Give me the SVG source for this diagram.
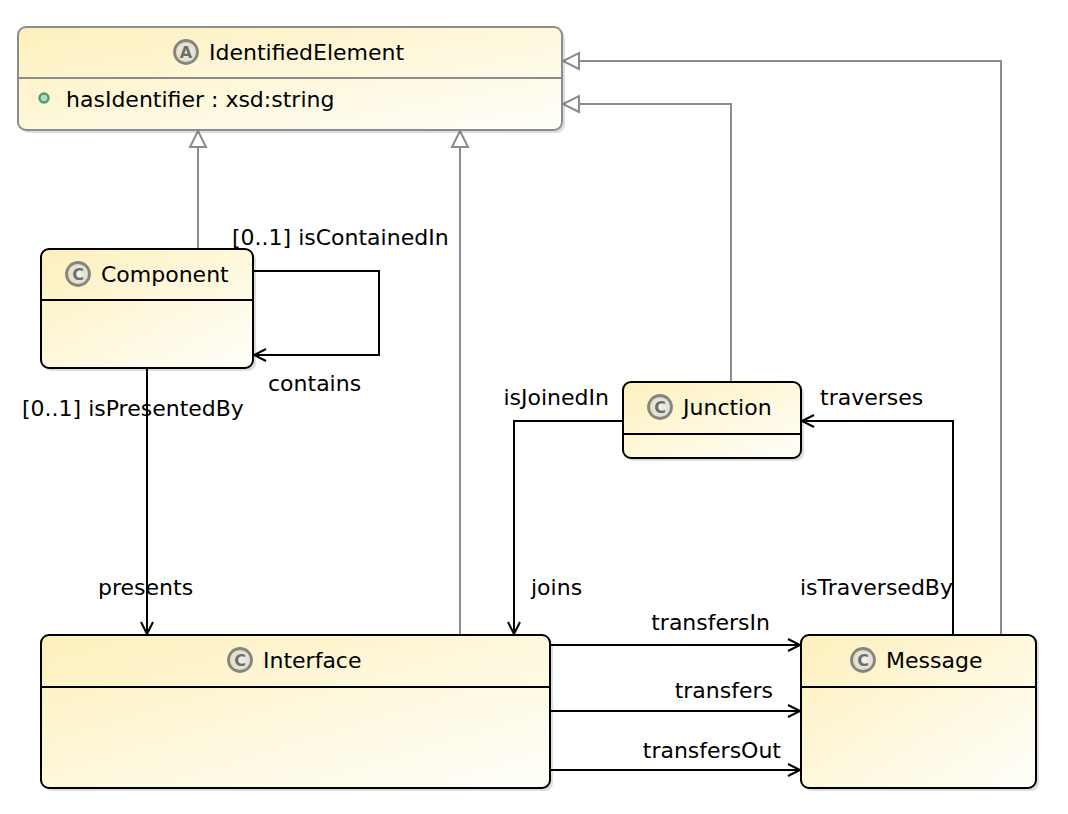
<svg xmlns="http://www.w3.org/2000/svg" width="1068" height="814" viewBox="0 0 1068 814">
<style>
text{font-family:"DejaVu Sans","Liberation Sans",sans-serif;font-size:22px;fill:#000}
.box{fill:url(#fillg);stroke:#000;stroke-width:2}
.abox{fill:url(#fillg);stroke:#8c8c8c;stroke-width:2}
.shadow{fill:#000;opacity:0.13}
.sep{stroke:#000;stroke-width:2}
.asep{stroke:#8c8c8c;stroke-width:2}
.icon{fill:url(#icong);stroke:#85857c;stroke-width:2.8}
.iconl{font-size:16px;font-weight:bold;fill:#6e6e66;text-anchor:middle}
.assoc{fill:none;stroke:#000;stroke-width:2;marker-end:url(#open)}
.gen{fill:none;stroke:#8c8c8c;stroke-width:2;marker-end:url(#tri)}
</style>
<defs>
<linearGradient id="fillg" x1="0" y1="0" x2="1" y2="1">
<stop offset="0" stop-color="#fdf0bc"/>
<stop offset="1" stop-color="#fffffb"/>
</linearGradient>
<radialGradient id="icong" cx="0.5" cy="0.5" r="0.5">
<stop offset="0" stop-color="#f4f2e6"/>
<stop offset="1" stop-color="#dcdace"/>
</radialGradient>
<marker id="open" markerUnits="userSpaceOnUse" markerWidth="16" markerHeight="16" refX="13" refY="7" orient="auto" viewBox="0 0 16 14">
<path d="M1,1 L13,7 L1,13" fill="none" stroke="#000" stroke-width="2"/>
</marker>
<marker id="tri" markerUnits="userSpaceOnUse" markerWidth="20" markerHeight="20" refX="17" refY="9" orient="auto" viewBox="0 0 20 18">
<path d="M1,1 L17,9 L1,17 Z" fill="#fff" stroke="#8c8c8c" stroke-width="2"/>
</marker>
</defs>
<rect width="1068" height="814" fill="#fff"/>

<g id="connectors">
<path class="gen" d="M198,249 V131"/>
<path class="gen" d="M460,635 V131"/>
<path class="gen" d="M731,382 V104 H563"/>
<path class="gen" d="M1001,635 V61 H563"/>
<path class="assoc" d="M253,271 H379 V355 H254"/>
<path class="assoc" d="M147,368 V634"/>
<path class="assoc" d="M623,421 H514 V634"/>
<path class="assoc" d="M953,635 V421 H802"/>
<path class="assoc" d="M550,645 H800"/>
<path class="assoc" d="M550,711 H800"/>
<path class="assoc" d="M550,770 H800"/>
<text x="232" y="245">[0..1] isContainedIn</text>
<text x="268" y="391">contains</text>
<text x="22" y="416">[0..1] isPresentedBy</text>
<text x="98" y="595">presents</text>
<text x="609" y="405" text-anchor="end">isJoinedIn</text>
<text x="531" y="595">joins</text>
<text x="820" y="405">traverses</text>
<text x="800" y="595">isTraversedBy</text>
<text x="770" y="630" text-anchor="end">transfersIn</text>
<text x="773" y="698" text-anchor="end">transfers</text>
<text x="781" y="758" text-anchor="end">transfersOut</text>
</g>

<g id="IdentifiedElement">
<rect class="shadow" x="21" y="30" width="544" height="103" rx="8"/>
<rect class="abox" x="18" y="27" width="544" height="103" rx="8"/>
<line class="asep" x1="19" y1="78" x2="561" y2="78"/>
<circle class="icon" cx="186" cy="52" r="11.5"/>
<text class="iconl" x="186" y="57.8">A</text>
<text x="209" y="60">IdentifiedElement</text>
<circle cx="44" cy="98" r="4.5" fill="#b4dcc2" stroke="#4f9d6e" stroke-width="2.4"/>
<text x="66" y="107">hasIdentifier : xsd:string</text>
</g>

<g id="Component">
<rect class="shadow" x="44" y="252" width="212" height="119" rx="8"/>
<rect class="box" x="41" y="249" width="212" height="119" rx="8"/>
<line class="sep" x1="42" y1="300" x2="252" y2="300"/>
<circle class="icon" cx="78" cy="274" r="11.5"/>
<text class="iconl" x="78" y="279.8">C</text>
<text x="101" y="282">Component</text>
</g>

<g id="Junction">
<rect class="shadow" x="626" y="385" width="178" height="76" rx="8"/>
<rect class="box" x="623" y="382" width="178" height="76" rx="8"/>
<line class="sep" x1="624" y1="434" x2="800" y2="434"/>
<circle class="icon" cx="660" cy="407" r="11.5"/>
<text class="iconl" x="660" y="412.8">C</text>
<text x="683" y="415">Junction</text>
</g>

<g id="Interface">
<rect class="shadow" x="44" y="638" width="509" height="153" rx="8"/>
<rect class="box" x="41" y="635" width="509" height="153" rx="8"/>
<line class="sep" x1="42" y1="687" x2="549" y2="687"/>
<circle class="icon" cx="240" cy="660" r="11.5"/>
<text class="iconl" x="240" y="665.8">C</text>
<text x="263" y="668">Interface</text>
</g>

<g id="Message">
<rect class="shadow" x="804" y="638" width="235" height="153" rx="8"/>
<rect class="box" x="801" y="635" width="235" height="153" rx="8"/>
<line class="sep" x1="802" y1="687" x2="1035" y2="687"/>
<circle class="icon" cx="863" cy="660" r="11.5"/>
<text class="iconl" x="863" y="665.8">C</text>
<text x="886" y="668">Message</text>
</g>
</svg>
